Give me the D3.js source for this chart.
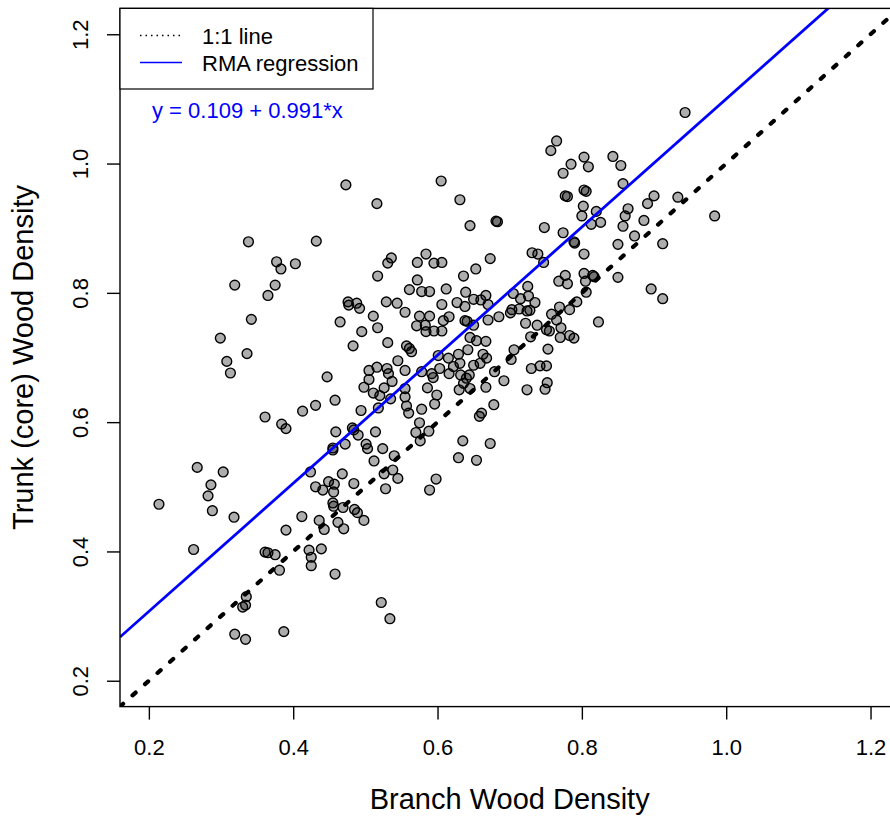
<!DOCTYPE html>
<html>
<head>
<meta charset="utf-8">
<script src="https://cdn.jsdelivr.net/npm/d3@7"></script>
<style>
  body { margin: 0; background: #fff; }
  svg { display: block; font-family: "Liberation Sans", Arial, Helvetica, sans-serif; }
</style>
</head>
<body>
<script>
// branch (x) and trunk core (y) wood density
const branchDensity = [
  0.473,0.516,0.338,0.432,0.377,0.383,0.403,0.319,0.375,0.365,
  0.342,0.299,0.336,0.308,0.313,0.447,0.536,0.531,0.584,0.572,
  0.517,0.572,0.561,0.578,0.476,0.477,0.488,0.492,0.529,0.544,
  0.555,0.511,0.517,0.465,0.495,0.575,0.571,0.583,0.584,0.531,
  0.483,0.557,0.561,0.564,0.545,0.555,0.516,0.505,0.530,0.505,
  0.532,0.537,0.498,0.526,0.511,0.555,0.578,0.592,0.594,0.586,
  0.458,0.520,0.555,0.599,
  0.361,0.384,0.390,0.413,0.431,0.494,0.518,0.535,0.557,0.560,
  0.578,0.596,0.459,0.482,0.484,0.490,0.514,0.575,0.570,0.588,
  0.576,0.472,0.455,0.455,0.501,0.503,0.524,0.540,0.512,0.267,
  0.303,0.286,0.282,0.214,0.288,0.318,0.424,0.468,0.449,0.457,
  0.431,0.441,0.456,0.484,0.526,0.538,0.545,0.528,0.598,0.589,
  0.455,0.456,0.469,0.485,0.489,0.498,0.412,0.436,0.462,0.443,
  0.470,0.390,0.262,0.361,0.365,0.375,0.422,0.425,0.439,0.425,
  0.381,0.458,0.335,0.330,0.334,0.522,0.534,0.319,0.334,0.387,
  0.752,0.749,0.724,0.692,0.679,0.667,0.645,0.630,0.644,0.640,
  0.632,0.636,0.616,0.622,0.678,0.661,0.658,0.635,0.673,0.629,
  0.654,
  0.943,0.765,0.757,0.785,0.774,0.803,0.809,0.843,0.854,0.857,
  0.605,0.631,0.803,0.806,0.777,0.780,0.802,0.800,0.820,0.826,
  0.813,0.645,0.681,0.683,0.748,0.774,0.789,0.790,0.803,0.864,
  0.860,0.857,0.891,0.900,0.933,0.886,0.873,0.850,0.912,0.984,
  0.731,0.739,0.747,0.673,0.653,0.636,0.595,0.606,0.777,0.768,
  0.780,0.803,0.815,0.817,0.805,0.850,0.806,0.793,0.896,0.912,
  0.612,0.589,0.639,0.627,0.606,0.650,0.660,0.667,0.670,0.638,
  0.705,0.725,0.715,0.726,0.735,0.703,0.713,0.724,0.728,0.701,
  0.685,0.670,0.638,0.641,0.650,0.616,0.608,0.595,0.606,0.589,
  0.722,0.738,0.758,0.765,0.751,0.755,0.771,0.770,0.783,0.789,
  0.783,0.769,0.823,0.729,0.706,0.702,0.753,0.645,0.654,0.667,
  0.642,0.629,0.615,0.601,0.663,0.668,0.631,0.650,0.659,0.742,
  0.751,0.730,0.603
];
const trunkDensity = [
  0.967,0.938,0.879,0.880,0.848,0.837,0.845,0.812,0.812,0.796,
  0.759,0.730,0.706,0.694,0.676,0.670,0.854,0.846,0.860,0.847,
  0.826,0.820,0.805,0.802,0.786,0.781,0.784,0.776,0.786,0.784,
  0.770,0.764,0.746,0.755,0.740,0.764,0.749,0.750,0.740,0.723,
  0.718,0.718,0.714,0.709,0.695,0.680,0.685,0.680,0.683,0.666,
  0.675,0.663,0.654,0.653,0.645,0.652,0.678,0.675,0.669,0.653,
  0.634,0.641,0.639,0.642,
  0.608,0.597,0.590,0.617,0.626,0.618,0.622,0.636,0.625,0.614,
  0.620,0.628,0.585,0.591,0.588,0.580,0.585,0.599,0.584,0.586,
  0.571,0.566,0.560,0.557,0.566,0.559,0.559,0.548,0.540,0.530,
  0.523,0.503,0.486,0.473,0.463,0.453,0.523,0.520,0.508,0.504,
  0.500,0.495,0.492,0.505,0.520,0.526,0.513,0.497,0.512,0.495,
  0.475,0.470,0.468,0.465,0.460,0.448,0.454,0.448,0.445,0.434,
  0.435,0.433,0.403,0.399,0.398,0.395,0.402,0.391,0.404,0.378,
  0.371,0.365,0.330,0.314,0.317,0.321,0.296,0.272,0.264,0.276,
  0.661,0.651,0.650,0.664,0.678,0.654,0.652,0.650,0.673,0.668,
  0.673,0.660,0.675,0.686,0.627,0.614,0.609,0.571,0.567,0.545,
  0.541,
  1.079,1.035,1.020,0.999,0.985,1.010,0.995,1.011,0.997,0.969,
  0.973,0.944,0.959,0.957,0.950,0.949,0.934,0.919,0.926,0.909,
  0.906,0.904,0.911,0.910,0.901,0.893,0.879,0.877,0.860,0.930,
  0.919,0.903,0.938,0.950,0.948,0.912,0.888,0.875,0.876,0.919,
  0.862,0.860,0.847,0.853,0.837,0.826,0.846,0.847,0.827,0.818,
  0.814,0.830,0.827,0.825,0.818,0.824,0.801,0.786,0.806,0.791,
  0.806,0.802,0.801,0.785,0.782,0.790,0.789,0.796,0.782,0.779,
  0.799,0.810,0.791,0.795,0.785,0.774,0.775,0.772,0.773,0.769,
  0.763,0.758,0.757,0.756,0.750,0.763,0.757,0.741,0.741,0.764,
  0.753,0.750,0.767,0.758,0.743,0.741,0.746,0.731,0.734,0.730,
  0.774,0.778,0.755,0.732,0.712,0.697,0.713,0.731,0.726,0.725,
  0.712,0.705,0.699,0.703,0.705,0.699,0.691,0.688,0.691,0.687,
  0.687,0.683,0.683
];
const xTicks = [0.2, 0.4, 0.6, 0.8, 1.0, 1.2];
const yTicks = [0.2, 0.4, 0.6, 0.8, 1.0, 1.2];
const rmaIntercept = 0.109, rmaSlope = 0.991;
const legendLabels = ["1:1 line", "RMA regression"];

const W = 890, H = 821;
const pLeft = 120, pRight = 899.4, pTop = 8.4, pBottom = 706.6;

const svg = d3.select("body").append("svg").attr("width", W).attr("height", H);

const x = d3.scaleLinear().domain([0.16, 1.24]).range([pLeft, pRight]);
const y = d3.scaleLinear().domain([0.16, 1.24]).range([pBottom, pTop]);

svg.append("clipPath").attr("id", "plotclip")
  .append("rect").attr("x", pLeft).attr("y", pTop)
  .attr("width", pRight - pLeft).attr("height", pBottom - pTop);

const pts = d3.zip(branchDensity, trunkDensity);

// points
svg.append("g").selectAll("circle").data(pts).enter().append("circle")
  .attr("cx", d => x(d[0])).attr("cy", d => y(d[1])).attr("r", 4.9)
  .attr("fill", "#000").attr("fill-opacity", 0.32)
  .attr("stroke", "#000").attr("stroke-width", 1.4);

// lines on top of the points
const gl = svg.append("g").attr("clip-path", "url(#plotclip)");
const dom = x.domain();
gl.append("line")
  .attr("x1", x(dom[0])).attr("y1", y(dom[0]))
  .attr("x2", x(dom[1])).attr("y2", y(dom[1]))
  .attr("stroke", "#000").attr("stroke-width", 4.2)
  .attr("stroke-dasharray", "4.2,12.6").attr("stroke-linecap", "round");
gl.append("line")
  .attr("x1", x(dom[0])).attr("y1", y(rmaIntercept + rmaSlope * dom[0]))
  .attr("x2", x(dom[1])).attr("y2", y(rmaIntercept + rmaSlope * dom[1]))
  .attr("stroke", "#0000ff").attr("stroke-width", 2.8);

// box
svg.append("rect").attr("x", pLeft).attr("y", pTop)
  .attr("width", pRight - pLeft).attr("height", pBottom - pTop)
  .attr("fill", "none").attr("stroke", "#000").attr("stroke-width", 1.4);

// axes
const xAxis = d3.axisBottom(x).tickValues(xTicks).tickFormat(d3.format(".1f"))
  .tickSize(13).tickPadding(0);
const gx = svg.append("g").attr("transform", "translate(0," + pBottom + ")").call(xAxis);
gx.select(".domain").remove();
gx.selectAll(".tick line").attr("stroke-width", 1.4);
gx.selectAll("text").attr("y", 48).attr("dy", null)
  .attr("font-size", 22).attr("font-family", null).attr("fill", "#000");

const yAxis = d3.axisLeft(y).tickValues(yTicks).tickFormat(d3.format(".1f"))
  .tickSize(13).tickPadding(0);
const gy = svg.append("g").attr("transform", "translate(" + pLeft + ",0)").call(yAxis);
gy.select(".domain").remove();
gy.selectAll(".tick line").attr("stroke-width", 1.4);
gy.selectAll("text")
  .attr("x", null).attr("dy", null)
  .attr("transform", "translate(" + (88 - pLeft) + ",0) rotate(-90)")
  .attr("text-anchor", "middle")
  .attr("font-size", 22).attr("font-family", null).attr("fill", "#000");

// axis titles
svg.append("text").attr("x", (pLeft + pRight) / 2).attr("y", 809)
  .attr("text-anchor", "middle").attr("font-size", 29)
  .text("Branch Wood Density");
svg.append("text")
  .attr("transform", "translate(33," + ((pTop + pBottom) / 2) + ") rotate(-90)")
  .attr("text-anchor", "middle").attr("font-size", 29)
  .text("Trunk (core) Wood Density");

// legend
const lg = svg.append("g");
lg.append("rect").attr("x", pLeft).attr("y", pTop).attr("width", 253).attr("height", 80.6)
  .attr("fill", "#fff").attr("stroke", "#000").attr("stroke-width", 1.2);
const legStyle = [
  { color: "#000", dash: "1.5,4", y: 35.5 },
  { color: "#0000ff", dash: null, y: 62.5 }
];
legendLabels.forEach((lab, i) => {
  lg.append("line").attr("x1", 140).attr("x2", 182)
    .attr("y1", legStyle[i].y).attr("y2", legStyle[i].y)
    .attr("stroke", legStyle[i].color).attr("stroke-width", 1.3)
    .attr("stroke-dasharray", legStyle[i].dash);
  lg.append("text").attr("x", 202).attr("y", legStyle[i].y + 8)
    .attr("font-size", 22).text(lab);
});

// equation
svg.append("text").attr("x", 152).attr("y", 118)
  .attr("font-size", 22).attr("fill", "#0000ff")
  .text("y = " + rmaIntercept + " + " + rmaSlope + "*x");
</script>
</body>
</html>
